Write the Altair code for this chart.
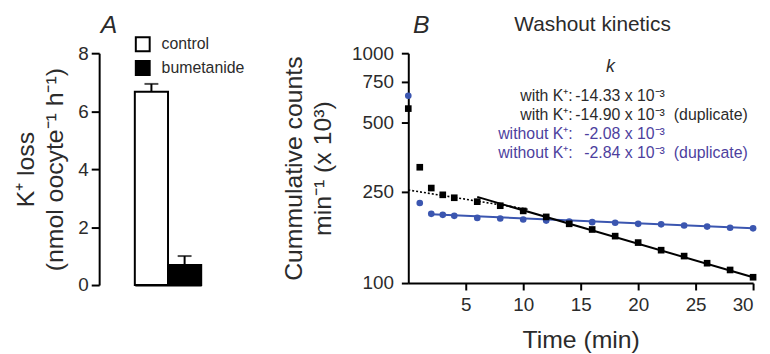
import altair as alt
import pandas as pd

FONT = "Liberation Sans"
TXT = "#2b2b2b"
BLUE = "#3b56b0"
PURPLE = "#4d3f9e"

# ---------------- Panel A data ----------------
groups = ["control", "bumetanide"]
k_loss = [6.67, 0.69]
k_loss_sem = [0.27, 0.31]
a_ticks = [0, 2, 4, 6, 8]

# ---------------- Panel B data ----------------
t_with = [0, 1, 2, 3, 4, 6, 8, 10, 12, 14, 16, 18, 20, 22, 24, 26, 28, 30]
counts_with = [574, 319, 259, 242, 235, 226, 217, 206, 194, 181, 171, 160, 150, 139, 131, 122, 114, 106]
t_without = [0, 1, 2, 3, 4, 6, 8, 10, 12, 14, 16, 18, 20, 22, 24, 26, 28, 30]
counts_without = [653, 223, 200, 198, 196, 192, 191, 189, 187, 185, 184, 183, 181, 180, 178, 176, 174, 173]

fit_with_t = [6, 30]
fit_with_v = [237, 106]
fit_early_t = [0, 10.5]
fit_early_v = [254, 209]
fit_without_t = [2, 30]
fit_without_v = [199, 173]

b_xticks = [5, 10, 15, 20, 25, 30]
b_yticks = [100, 250, 500, 750, 1000]

ann_group = ["with", "with", "without", "without"]
ann_labels = ["with K⁺:", "with K⁺:", "without K⁺:", "without K⁺:"]
ann_values = ["-14.33 x 10⁻³", "-14.90 x 10⁻³", "-2.08 x 10⁻³", "-2.84 x 10⁻³"]
ann_notes = ["", "(duplicate)", "", "(duplicate)"]

# ---------------- Panel A ----------------
dfA = pd.DataFrame({
    "group": groups,
    "mean": k_loss,
    "upper": [m + s for m, s in zip(k_loss, k_loss_sem)],
})

xA = alt.X("group:N", sort=groups,
           scale=alt.Scale(range=[36, 103], paddingInner=0, paddingOuter=0),
           axis=alt.Axis(labels=False, ticks=False, title=None,
                         domainColor="black", domainWidth=2))
yA_axis = alt.Axis(values=a_ticks, title=["K⁺ loss", "(nmol oocyte⁻¹ h⁻¹)"],
                   grid=False, domainColor="black", domainWidth=2,
                   tickColor="black", tickWidth=2, tickSize=8,
                   labelFontSize=19, labelPadding=3, labelColor=TXT, labelFont=FONT,
                   titleFontSize=25, titleFont=FONT, titleFontWeight="normal",
                   titleColor=TXT, titlePadding=10, titleLineHeight=30)

bars = alt.Chart(dfA).mark_bar(stroke="black", strokeWidth=2).encode(
    x=xA,
    y=alt.Y("mean:Q", scale=alt.Scale(domain=[0, 8], nice=False), axis=yA_axis),
    fill=alt.Fill("group:N", sort=groups,
                  scale=alt.Scale(domain=groups, range=["white", "black"]),
                  legend=alt.Legend(orient="none", legendX=36, legendY=-17, title=None,
                                    symbolType="square", symbolSize=196,
                                    symbolStrokeColor="black", symbolStrokeWidth=2,
                                    labelFontSize=16, labelFont=FONT, labelColor=TXT,
                                    labelOffset=11, rowPadding=2, padding=0)),
)
err = alt.Chart(dfA).mark_rule(color="black", strokeWidth=2).encode(
    x=xA, y="mean:Q", y2="upper:Q")
cap = alt.Chart(dfA).mark_tick(color="black", thickness=2, size=14, orient="horizontal").encode(
    x=xA, y="upper:Q")
labelA = alt.Chart(pd.DataFrame({"lab": ["A"]})).mark_text(
    fontSize=25, fontStyle="italic", font=FONT, color=TXT, align="center", baseline="middle"
).encode(text="lab:N", x=alt.value(10), y=alt.value(-28))

panelA = alt.layer(bars, err, cap, labelA).properties(width=143, height=234)

# ---------------- Panel B ----------------
df_with = pd.DataFrame({"t": t_with, "v": counts_with})
df_without = pd.DataFrame({"t": t_without, "v": counts_without})
df_fit_with = pd.DataFrame({"t": fit_with_t, "v": fit_with_v})
df_fit_early = pd.DataFrame({"t": fit_early_t, "v": fit_early_v})
df_fit_without = pd.DataFrame({"t": fit_without_t, "v": fit_without_v})

xB = alt.X("t:Q", scale=alt.Scale(domain=[0, 30], nice=False),
           axis=alt.Axis(values=b_xticks, title="Time (min)", grid=False,
                         domainColor="black", domainWidth=2,
                         tickColor="black", tickWidth=2, tickSize=7,
                         labelFontSize=19, labelPadding=6, labelColor=TXT, labelFont=FONT,
                         titleFontSize=25, titleFont=FONT, titleFontWeight="normal",
                         titleColor=TXT, titlePadding=13))
yB = alt.Y("v:Q", scale=alt.Scale(type="log", domain=[100, 1000], nice=False),
           axis=alt.Axis(values=b_yticks, format="d",
                         title=["Cummulative counts", "min⁻¹ (x 10³)"], grid=False,
                         domainColor="black", domainWidth=2,
                         tickColor="black", tickWidth=2, tickSize=7,
                         labelFontSize=19, labelPadding=8, labelColor=TXT, labelFont=FONT,
                         titleFontSize=25, titleFont=FONT, titleFontWeight="normal",
                         titleColor=TXT, titlePadding=16, titleLineHeight=29))

line_with = alt.Chart(df_fit_with).mark_line(color="black", strokeWidth=2).encode(x=xB, y=yB)
line_early = alt.Chart(df_fit_early).mark_line(color="black", strokeWidth=1.6,
                                               strokeDash=[2, 2]).encode(x=xB, y=yB)
line_without = alt.Chart(df_fit_without).mark_line(color=BLUE, strokeWidth=2).encode(x=xB, y=yB)
pts_without = alt.Chart(df_without).mark_circle(size=45, color=BLUE, opacity=1).encode(x=xB, y=yB)
pts_with = alt.Chart(df_with).mark_square(size=45, color="black", opacity=1).encode(x=xB, y=yB)

main = alt.layer(line_without, line_early, line_with, pts_without, pts_with)

df_ann = pd.DataFrame({"row": [0, 1, 2, 3], "grp": ann_group, "label": ann_labels,
                       "value": ann_values, "note": ann_notes})
yrow = alt.Y("row:Q", scale=alt.Scale(domain=[0, 3], range=[43, 101]), axis=None)
colr = alt.Color("grp:N", scale=alt.Scale(domain=["with", "without"], range=[TXT, PURPLE]),
                 legend=None)
ann_base = alt.Chart(df_ann)
ann_lab = ann_base.mark_text(fontSize=16, font=FONT, align="right", baseline="middle").encode(
    text="label:N", x=alt.value(166), y=yrow, color=colr)
ann_val = ann_base.mark_text(fontSize=16, font=FONT, align="right", baseline="middle").encode(
    text="value:N", x=alt.value(259), y=yrow, color=colr)
ann_note = ann_base.mark_text(fontSize=16, font=FONT, align="left", baseline="middle").encode(
    text="note:N", x=alt.value(268), y=yrow, color=colr)

txt_df = pd.DataFrame({"lab": ["B"], "title": ["Washout kinetics"], "k": ["k"]})
labelB = alt.Chart(txt_df).mark_text(fontSize=25, fontStyle="italic", font=FONT, color=TXT,
                                     align="center", baseline="middle").encode(
    text="lab:N", x=alt.value(13), y=alt.value(-28))
titleB = alt.Chart(txt_df).mark_text(fontSize=21, font=FONT, color=TXT,
                                     align="center", baseline="middle").encode(
    text="title:N", x=alt.value(186), y=alt.value(-28))
kB = alt.Chart(txt_df).mark_text(fontSize=18, fontStyle="italic", font=FONT, color=TXT,
                                 align="center", baseline="middle").encode(
    text="k:N", x=alt.value(204), y=alt.value(14))

annot = alt.layer(ann_lab, ann_val, ann_note)
panelB = alt.layer(main, annot, labelB, titleB, kB).resolve_scale(y="independent").properties(
    width=348, height=232)

chart = alt.hconcat(panelA, panelB, spacing=37).resolve_scale(
    color="independent", fill="independent"
).configure(
    font=FONT, padding={"left": 5, "top": 4, "right": 5, "bottom": 0}
).configure_view(stroke=None)

chart.save("out.html", embed_options={"renderer": "svg", "actions": False})
